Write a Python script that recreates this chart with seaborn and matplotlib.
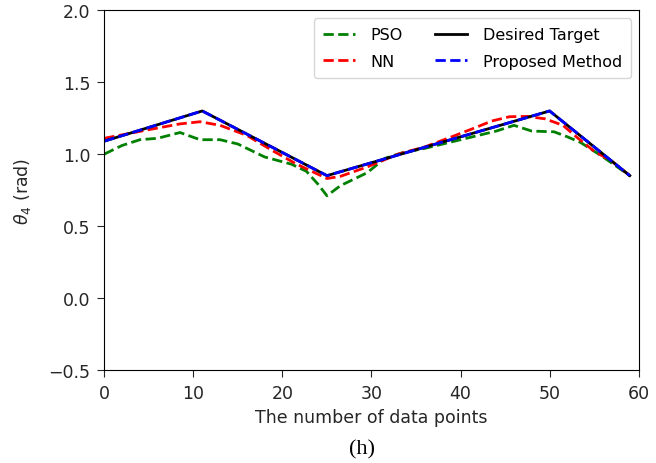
import matplotlib
matplotlib.use("Agg")
import matplotlib.pyplot as plt
import pandas as pd
import seaborn as sns

# Joint angle theta_4 trajectories over the data-point index
target_x = [0, 11, 25, 50, 59]
target_y = [1.09, 1.30, 0.85, 1.30, 0.85]

proposed_x = [0, 11, 25, 50, 59]
proposed_y = [1.09, 1.30, 0.85, 1.30, 0.85]

pso_x = [0, 2, 4, 6, 8.5, 10.75, 13, 15, 18, 21, 22.7, 24, 25, 26.5, 29.5,
         31.5, 33.5, 36, 40, 44, 46, 48, 50.5, 52, 53.5, 56, 59]
pso_y = [1.00, 1.06, 1.10, 1.11, 1.15, 1.10, 1.10, 1.07, 0.98, 0.93, 0.88,
         0.79, 0.71, 0.78, 0.87, 0.97, 1.01, 1.04, 1.10, 1.16, 1.20, 1.16,
         1.155, 1.12, 1.08, 0.98, 0.85]

nn_x = [0, 5, 8.5, 10.75, 13, 16, 19, 21.6, 25, 26.5, 29.5, 33, 36, 39,
        41.5, 43.5, 45.5, 47.5, 49.5, 51.5, 53, 55, 57, 59]
nn_y = [1.11, 1.17, 1.21, 1.225, 1.20, 1.13, 1.02, 0.93, 0.83, 0.845, 0.91,
        1.00, 1.05, 1.12, 1.18, 1.23, 1.26, 1.262, 1.245, 1.20, 1.12, 1.02,
        0.95, 0.85]

fig = plt.figure(figsize=(6.56, 4.64), dpi=100)
ax = fig.add_axes([0.159, 0.201, 0.8146, 0.7746])

series = [
    ("PSO", pso_x, pso_y, "green", "--"),
    ("NN", nn_x, nn_y, "red", "--"),
    ("Desired Target", target_x, target_y, "black", "-"),
    ("Proposed Method", proposed_x, proposed_y, "blue", "--"),
]
for name, xs, ys, color, ls in series:
    df = pd.DataFrame({"x": xs, "y": ys})
    sns.lineplot(data=df, x="x", y="y", ax=ax, color=color, linestyle=ls,
                 linewidth=2, label=name)

ax.set_xlim(0, 60)
ax.set_ylim(-0.5, 2.0)
ax.set_xticks([0, 10, 20, 30, 40, 50, 60])
ax.set_yticks([-0.5, 0.0, 0.5, 1.0, 1.5, 2.0])
ax.tick_params(labelsize=12.5, colors="#262626", length=5, pad=5)
ax.set_xlabel("The number of data points", fontsize=12.5, color="#262626",
              labelpad=4.5)
ax.set_ylabel(r"$\theta_4$ (rad)", fontsize=12.5, color="#262626",
              labelpad=11)
ax.legend(loc="upper right", ncol=2, fontsize=11.5, frameon=True,
          labelspacing=0.75, handletextpad=1.0, borderpad=0.55)

fig.text(0.552, 0.030, "(h)", family="Liberation Serif", fontsize=16,
         ha="center", va="center", color="black")

fig.savefig("out.png", dpi=100)
